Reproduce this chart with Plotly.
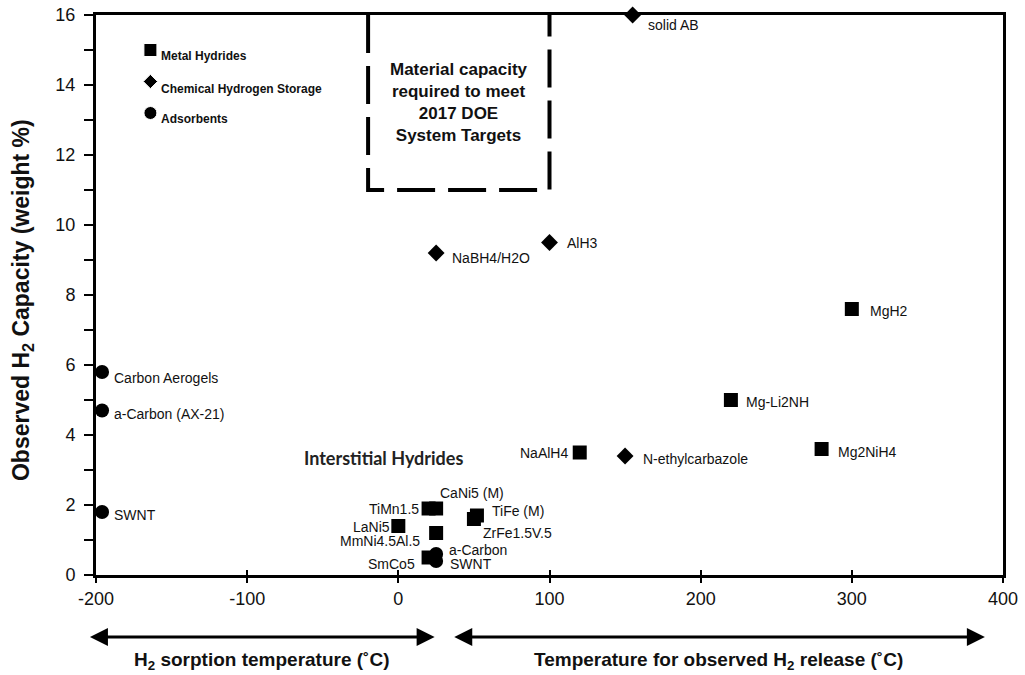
import plotly.graph_objects as go

# ---- data: temperature (degC) vs observed H2 capacity (weight %) ----
metal_names = ["MgH2", "Mg-Li2NH", "Mg2NiH4", "NaAlH4", "TiMn1.5", "CaNi5 (M)",
               "TiFe (M)", "ZrFe1.5V.5", "LaNi5", "MmNi4.5Al.5", "SmCo5"]
metal_temp = [300, 220, 280, 120, 20, 25, 52, 50, 0, 25, 20]
metal_cap = [7.6, 5.0, 3.6, 3.5, 1.9, 1.9, 1.7, 1.6, 1.4, 1.2, 0.5]

chem_names = ["solid AB", "NaBH4/H2O", "AlH3", "N-ethylcarbazole"]
chem_temp = [155, 25, 100, 150]
chem_cap = [16.0, 9.2, 9.5, 3.4]

ads_names = ["Carbon Aerogels", "a-Carbon (AX-21)", "SWNT", "a-Carbon", "SWNT"]
ads_temp = [-196, -196, -196, 25, 25]
ads_cap = [5.8, 4.7, 1.8, 0.6, 0.4]

# in-plot key (symbol samples)
key_names = ["Metal Hydrides", "Chemical Hydrogen Storage", "Adsorbents"]
key_temp = [-164, -164, -164]
key_cap = [15.0, 14.1, 13.2]

# 2017 DOE system-target region
target_temp = [-20, 100]
target_cap = [11, 16]

# temperature regimes shown under the axis
sorption_span = [-205, 24]
release_span = [36, 388]

x_ticks = [-200, -100, 0, 100, 200, 300, 400]
x_ticktext = ["-200", "-100", "0", "100", "200", "300", "400"]
y_ticks = [0, 2, 4, 6, 8, 10, 12, 14, 16]
x_range = [-200, 400]
y_range = [0, 16]

# ---- label placement (anchor, x shift px, y shift px) ----
metal_lab = [("left", 16, -2), ("left", 13, -2), ("left", 14, -3), ("right", -10, 0),
             ("right", -8, 0), ("left", 2, 16), ("left", 13, 5), ("left", 7, -14),
             ("right", -6, -1), ("right", -14, -8), ("right", -12, -6)]
chem_lab = [("left", 13, -10), ("left", 14, -5), ("left", 15, 0), ("left", 16, -3)]
ads_lab = [("left", 10, -6), ("left", 10, -3), ("left", 10, -3), ("left", 11, 4), ("left", 12, -3)]
key_lab = [("left", 9, -6), ("left", 9, -7), ("left", 9, -6)]

W, H = 1025, 675
ML, MR, MT, MB = 96, 22, 15, 100
PW = W - ML - MR
PH = H - MT - MB
FONT = "Liberation Sans, Arial, sans-serif"


def to_paper_x(t):
    return (t - x_range[0]) / (x_range[1] - x_range[0])


fig = go.Figure()

fig.add_trace(go.Scatter(x=metal_temp, y=metal_cap, mode="markers", cliponaxis=False,
                         marker=dict(symbol="square", size=14, color="black", opacity=1),
                         showlegend=False, hoverinfo="skip"))
fig.add_trace(go.Scatter(x=chem_temp, y=chem_cap, mode="markers", cliponaxis=False,
                         marker=dict(symbol="diamond", size=13, color="black", opacity=1),
                         showlegend=False, hoverinfo="skip"))
fig.add_trace(go.Scatter(x=ads_temp, y=ads_cap, mode="markers", cliponaxis=False,
                         marker=dict(symbol="circle", size=14, color="black", opacity=1),
                         showlegend=False, hoverinfo="skip"))
fig.add_trace(go.Scatter(x=key_temp, y=key_cap, mode="markers", cliponaxis=False,
                         marker=dict(symbol=["square", "diamond", "circle"],
                                     size=[13, 11, 13], color="black", opacity=1),
                         showlegend=False, hoverinfo="skip"))
# companion axis used only for the inward half of the x ticks
fig.add_trace(go.Scatter(x=[None], y=[None], xaxis="x2", showlegend=False, hoverinfo="skip"))

annotations = []


def add_labels(names, xs, ys, places, size=14, bold=False):
    for n, x, y, (anc, dx, dy) in zip(names, xs, ys, places):
        annotations.append(dict(
            x=x, y=y, xref="x", yref="y", showarrow=False,
            text=f"<b>{n}</b>" if bold else n,
            xanchor=anc, yanchor="middle", xshift=dx, yshift=dy,
            font=dict(family=FONT, size=size, color="#111111")))


add_labels(metal_names, metal_temp, metal_cap, metal_lab)
add_labels(chem_names, chem_temp, chem_cap, chem_lab)
add_labels(ads_names, ads_temp, ads_cap, ads_lab)
add_labels(key_names, key_temp, key_cap, key_lab, size=12, bold=True)

# target box caption
annotations.append(dict(
    x=sum(target_temp) / 2, y=13.5, xref="x", yref="y", showarrow=False,
    xanchor="center", yanchor="middle",
    text="<b>Material capacity<br>required to meet<br>2017 DOE<br>System Targets</b>",
    align="center", font=dict(family=FONT, size=17, color="#111111")))

# group caption
annotations.append(dict(
    x=-10, y=3.35, xref="x", yref="y", showarrow=False,
    xanchor="center", yanchor="middle",
    text="<b>Interstitial Hydrides</b>",
    font=dict(family="Lato, sans-serif", size=18, color="#222222")))

# y-axis title
annotations.append(dict(
    x=(22 - ML) / PW, y=0.491, xref="paper", yref="paper", showarrow=False,
    xanchor="center", yanchor="middle",
    textangle=-90, text="<b>Observed H<sub>2</sub> Capacity (weight %)</b>",
    font=dict(family=FONT, size=23, color="#111111")))

# double-headed regime arrows and their captions
arrow_y = -(637 - (MT + PH)) / PH
caption_y = -(661 - (MT + PH)) / PH
for span, caption in [(sorption_span, "<b>H<sub>2</sub> sorption temperature (˚C)</b>"),
                      (release_span, "<b>Temperature for observed H<sub>2</sub> release (˚C)</b>")]:
    x0, x1 = to_paper_x(span[0]), to_paper_x(span[1])
    annotations.append(dict(
        x=x1, y=arrow_y, xref="paper", yref="paper",
        ax=-(x1 - x0) * PW, ay=0, axref="pixel", ayref="pixel",
        text="", showarrow=True, arrowside="end+start",
        arrowhead=2, arrowsize=1.2, arrowwidth=3, arrowcolor="black"))
    annotations.append(dict(
        x=(x0 + x1) / 2, y=caption_y, xref="paper", yref="paper",
        xanchor="center", yanchor="middle",
        showarrow=False, text=caption,
        font=dict(family=FONT, size=19, color="#111111")))

# dashed outline of the target region (open at the top frame)
shapes = [dict(
    type="path", xref="x", yref="y", layer="above",
    path=(f"M {target_temp[0]},{target_cap[1]} L {target_temp[0]},{target_cap[0]} "
          f"L {target_temp[1]},{target_cap[0]} L {target_temp[1]},{target_cap[1]}"),
    line=dict(color="black", width=4, dash="38px,13px"))]

fig.update_layout(
    width=W, height=H,
    margin=dict(l=ML, r=MR, t=MT, b=MB, autoexpand=False),
    paper_bgcolor="white", plot_bgcolor="white",
    showlegend=False,
    annotations=annotations,
    shapes=shapes,
    xaxis=dict(range=x_range, tickvals=x_ticks, ticktext=x_ticktext,
               ticks="outside", ticklen=5, tickwidth=1.5,
               tickcolor="black", showline=True, linewidth=3, linecolor="black", mirror=True,
               showgrid=False, zeroline=False,
               tickfont=dict(family=FONT, size=18, color="#111111")),
    xaxis2=dict(overlaying="x", matches="x", anchor="y", side="bottom",
                tickvals=x_ticks, ticks="inside", ticklen=5, tickwidth=1.5, tickcolor="black",
                showticklabels=False, showline=False, showgrid=False, zeroline=False),
    yaxis=dict(range=y_range, tickvals=y_ticks, ticks="outside", ticklen=9, tickwidth=1.5,
               tickcolor="black", showline=True, linewidth=3, linecolor="black", mirror=True,
               showgrid=False, zeroline=False, ticklabelstandoff=5,
               minor=dict(dtick=1, tick0=0, ticks="outside", ticklen=9, tickwidth=1.5,
                          tickcolor="black"),
               tickfont=dict(family=FONT, size=18, color="#111111")),
)

fig.write_html("out.html")
